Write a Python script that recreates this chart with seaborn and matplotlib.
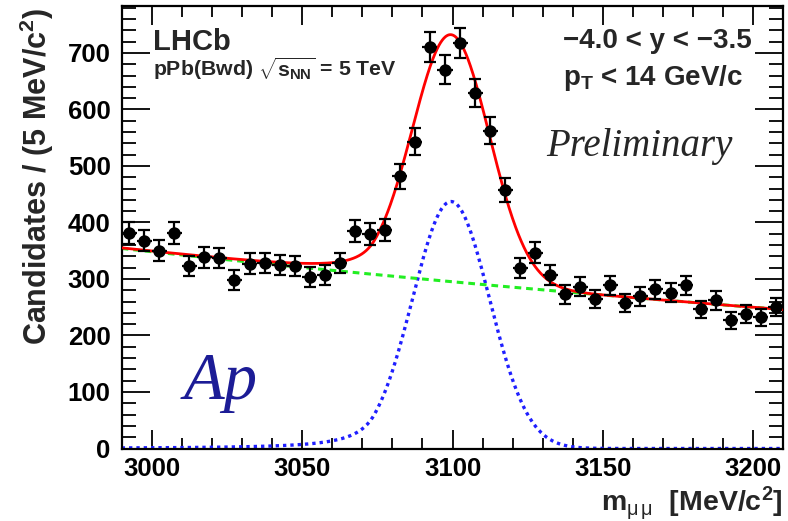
import numpy as np
import pandas as pd
import matplotlib
matplotlib.use("Agg")
import matplotlib.pyplot as plt
import seaborn as sns

# ---------------- data ----------------
bin_low = 2990.0
bin_width = 5.0
counts = [381, 368, 350, 381, 323, 338, 337, 298, 327, 328, 325, 323, 303, 307,
          328, 385, 380, 387, 482, 543, 710, 670, 718, 629, 562, 458, 319, 346,
          307, 273, 286, 264, 289, 257, 269, 282, 276, 289, 246, 262, 227, 238,
          232, 251]

# fit model parameters (Crystal Ball signal + exponential background)
sig_peak = 437.0
sig_mean = 3099.5
sig_sigma = 12.8
cb_alpha = 2.0
cb_n = 2.0
bkg_at_low = 354.0
bkg_slope = 0.001657

x_range = (2990, 3210)
y_range = (0, 783)
x_ticks = [3000, 3050, 3100, 3150, 3200]
y_ticks = [0, 100, 200, 300, 400, 500, 600, 700]

# ---------------- build ----------------
centers = bin_low + bin_width * (np.arange(len(counts)) + 0.5)
counts = np.array(counts, dtype=float)
errs = np.sqrt(counts)

m = np.linspace(x_range[0], x_range[1], 1200)


def crystal_ball(x):
    t = (x - sig_mean) / sig_sigma
    A = (cb_n / cb_alpha) ** cb_n * np.exp(-cb_alpha ** 2 / 2)
    B = cb_n / cb_alpha - cb_alpha
    out = np.where(t > -cb_alpha, np.exp(-t ** 2 / 2),
                   A * np.abs(B - t) ** (-cb_n))
    return sig_peak * out


signal = crystal_ball(m)
background = bkg_at_low * np.exp(-bkg_slope * (m - x_range[0]))
total = signal + background
curves = pd.DataFrame({"m": m, "signal": signal, "background": background, "total": total})
points = pd.DataFrame({"m": centers, "n": counts})

# ---------------- style ----------------
sns.set_theme(style="ticks")
plt.rcParams["font.family"] = ["Liberation Sans", "DejaVu Sans"]
plt.rcParams["mathtext.fontset"] = "custom"
plt.rcParams["mathtext.rm"] = "Liberation Sans"
plt.rcParams["mathtext.it"] = "Liberation Sans:italic"
plt.rcParams["mathtext.bf"] = "Liberation Sans:bold"
plt.rcParams["mathtext.default"] = "bf"

W, H = 788, 521
fig = plt.figure(figsize=(W / 100, H / 100), dpi=100)
fig.patch.set_facecolor("white")
L, R, T, Bt = 121.7, 783.3, 6.0, 448.5
ax = fig.add_axes([L / W, 1 - Bt / H, (R - L) / W, (Bt - T) / H])
ax.set_facecolor("white")


def fpx(x, y):
    return x / W, 1 - y / H


# curves
sns.lineplot(data=curves, x="m", y="signal", ax=ax, color="#1f1fff", lw=2.4,
             linestyle=(0, (1.0, 1.2)), zorder=2)
sns.lineplot(data=curves, x="m", y="background", ax=ax, color="#22ee22", lw=2.2,
             linestyle=(0, (2.2, 1.6)), zorder=2)
sns.lineplot(data=curves, x="m", y="total", ax=ax, color="#ff0000", lw=2.0, zorder=3)

# data points
ax.errorbar(points["m"], points["n"], yerr=errs, fmt="none", ecolor="black",
            elinewidth=1.6, capsize=4.5, capthick=1.6, zorder=4)
ax.errorbar(points["m"], points["n"], xerr=bin_width / 2, fmt="none", ecolor="black",
            elinewidth=1.6, capsize=0, zorder=4)
sns.scatterplot(data=points, x="m", y="n", ax=ax, color="black", s=80,
                edgecolor="black", linewidth=0, zorder=5)

ax.set_xlim(*x_range)
ax.set_ylim(*y_range)
ax.set_xticks(x_ticks)
ax.set_yticks(y_ticks)
ax.set_xticks(np.arange(x_range[0], x_range[1] + 1, 10), minor=True)
ax.set_yticks(np.arange(0, y_range[1], 20), minor=True)
ax.tick_params(which="both", direction="in", top=True, right=True, colors="black",
               width=1.3)
ax.tick_params(axis="x", which="major", length=14, pad=6, labelsize=18.5)
ax.tick_params(axis="x", which="minor", length=8)
ax.tick_params(axis="y", which="major", length=20, pad=8, labelsize=18.5)
ax.tick_params(axis="y", which="minor", length=10)
for lab in ax.get_xticklabels() + ax.get_yticklabels():
    lab.set_fontweight("bold")
for sp in ax.spines.values():
    sp.set_linewidth(1.6)
    sp.set_color("black")
ax.set_xlabel("")
ax.set_ylabel("")

# axis titles
fig.text(*fpx(37, 8), "Candidates / (5 MeV/c$^{2}$)", rotation=90, ha="center",
         va="top", fontsize=22, fontweight="bold")
fig.text(*fpx(783, 511), r"m$_{\mathrm{μ\,μ}}$  [MeV/c$^{2}$]", ha="right",
         va="baseline", fontsize=20.5, fontweight="bold")

# annotations
fig.text(*fpx(153, 50), "LHCb", fontsize=21, fontweight="bold", va="baseline")
fig.text(*fpx(153, 76), r"pPb(Bwd) $\sqrt{\mathbf{s}_{\mathbf{NN}}}$ = 5 TeV",
         fontsize=15.3, fontweight="bold", va="baseline")
fig.text(*fpx(563, 48.5), "\u22124.0 < y < \u22123.5", fontsize=20,
         fontweight="bold", va="baseline")
fig.text(*fpx(563, 85), r"p$_{\mathbf{T}}$ < 14 GeV/c", fontsize=20,
         fontweight="bold", va="baseline")
fig.text(*fpx(546, 156), "Preliminary", fontsize=28, style="italic",
         family="Liberation Serif", va="baseline")
fig.text(*fpx(184, 399), "Ap", fontsize=48, style="italic",
         family="Liberation Serif", va="baseline", color="#1c1c96")

fig.savefig("out.png", dpi=100, facecolor="white")
